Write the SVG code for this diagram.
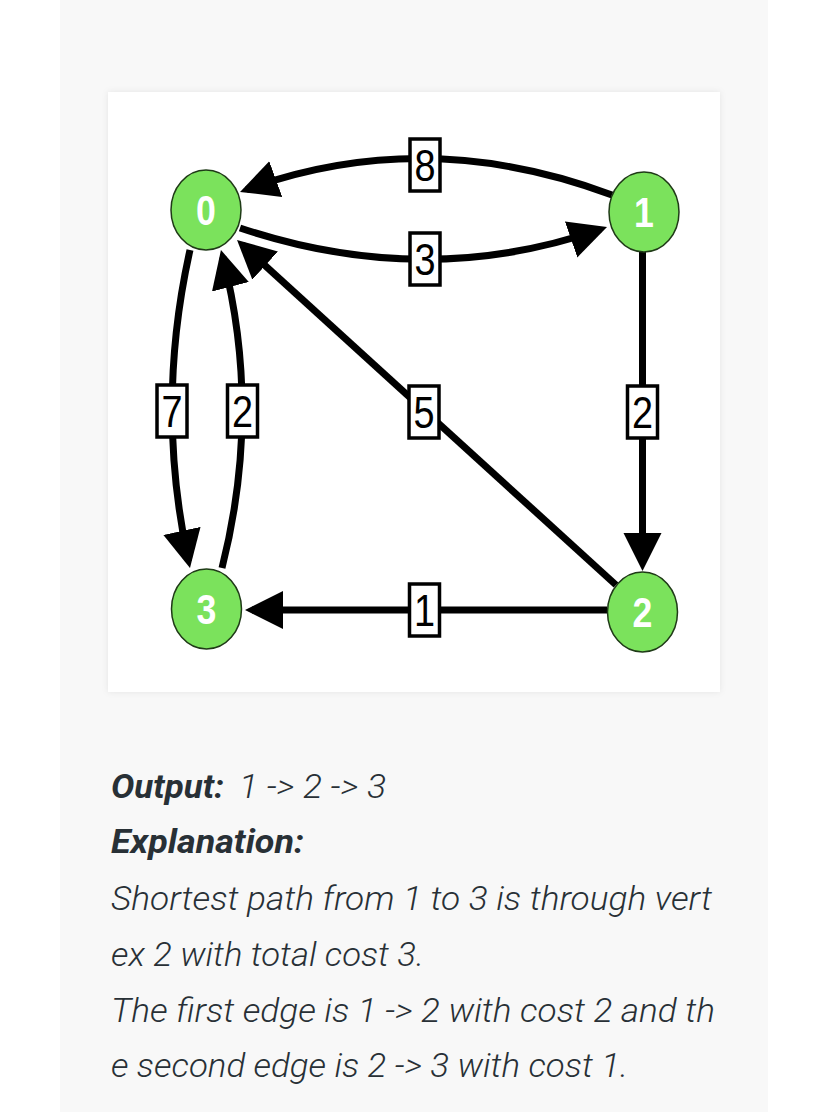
<svg xmlns="http://www.w3.org/2000/svg" width="828" height="1112" viewBox="0 0 828 1112">
<defs>
<style>
.edge{fill:none;stroke:#000;stroke-width:7}
.node ellipse{fill:#7be25c;stroke:#1f3a17;stroke-width:1.5}
.nlab{font-family:"Liberation Sans",Arial,sans-serif;font-weight:bold;font-size:42px;fill:#fff;text-anchor:middle}
.box{fill:#fff;stroke:#000;stroke-width:3.5}
.elab{font-family:"Liberation Sans",Arial,sans-serif;font-size:44px;fill:#000;text-anchor:middle}
.txt{font-family:Roboto,"Liberation Sans",sans-serif;font-style:italic;font-weight:300;font-size:34px;fill:#283036}
.b{font-weight:bold}
</style>
<marker id="arr" markerUnits="userSpaceOnUse" markerWidth="40" markerHeight="40" refX="31" refY="19" orient="auto" viewBox="0 0 40 40">
<path d="M0,0 L38,19 L0,38 z" fill="#000"/>
</marker>
<filter id="sh" x="-5%" y="-5%" width="110%" height="110%">
<feDropShadow dx="0" dy="0" stdDeviation="3" flood-color="#000" flood-opacity="0.08"/>
</filter>
</defs>
<rect x="0" y="0" width="828" height="1112" fill="#fff"/>
<rect x="60" y="0" width="708" height="1112" fill="#f8f8f8"/>
<rect x="108" y="92" width="612" height="600" fill="#fff" filter="url(#sh)"/>

<g id="connectors">
<path class="edge" marker-end="url(#arr)" d="M612,195 Q425,125 246.6,189.6"/>
<path class="edge" marker-end="url(#arr)" d="M240,228 Q425,290 600.4,229.3"/>
<path class="edge" marker-end="url(#arr)" d="M190,250 Q155,406 188.5,561.2"/>
<path class="edge" marker-end="url(#arr)" d="M222,568 Q262,410 222.7,256.8"/>
<path class="edge" marker-end="url(#arr)" d="M616,585 L242.2,244.7"/>
<path class="edge" marker-end="url(#arr)" d="M642.5,252 L642.5,564"/>
<path class="edge" marker-end="url(#arr)" d="M607,610 L252,610"/>
<g id="edge-labels">
<rect class="box" x="410" y="139" width="30" height="52"/>
<text class="elab" transform="translate(425,180.5) scale(0.86,1)">8</text>
<rect class="box" x="410" y="233" width="30" height="52"/>
<text class="elab" transform="translate(425,274.5) scale(0.86,1)">3</text>
<rect class="box" x="157" y="385" width="30" height="52"/>
<text class="elab" transform="translate(172,426.5) scale(0.86,1)">7</text>
<rect class="box" x="227.5" y="385" width="30" height="52"/>
<text class="elab" transform="translate(242.5,426.5) scale(0.86,1)">2</text>
<rect class="box" x="409" y="386" width="30" height="52"/>
<text class="elab" transform="translate(424,427.5) scale(0.86,1)">5</text>
<rect class="box" x="627.5" y="386" width="30" height="52"/>
<text class="elab" transform="translate(642.5,427.5) scale(0.86,1)">2</text>
<rect class="box" x="409.5" y="584" width="30" height="52"/>
<text class="elab" transform="translate(424.5,625.5) scale(0.86,1)">1</text>
</g>
</g>

<g id="node0" class="node"><ellipse cx="206" cy="210" rx="35" ry="40"/><text class="nlab" transform="translate(206,225) scale(0.85,1)">0</text></g>
<g id="node1" class="node"><ellipse cx="644" cy="212" rx="35" ry="40"/><text class="nlab" transform="translate(644,227) scale(0.85,1)">1</text></g>
<g id="node2" class="node"><ellipse cx="642.5" cy="612" rx="35" ry="40"/><text class="nlab" transform="translate(642.5,627) scale(0.85,1)">2</text></g>
<g id="node3" class="node"><ellipse cx="206.5" cy="609" rx="35" ry="40"/><text class="nlab" transform="translate(206.5,624) scale(0.85,1)">3</text></g>

<g id="caption">
<text class="txt b" x="111" y="798" textLength="113" lengthAdjust="spacingAndGlyphs">Output:</text>
<text class="txt" x="239" y="798" textLength="147" lengthAdjust="spacingAndGlyphs">1 -&gt; 2 -&gt; 3</text>
<text class="txt b" x="111" y="853" textLength="193" lengthAdjust="spacingAndGlyphs">Explanation:</text>
<text class="txt" x="111" y="910" textLength="601" lengthAdjust="spacingAndGlyphs">Shortest path from 1 to 3 is through vert</text>
<text class="txt" x="111" y="966" textLength="313" lengthAdjust="spacingAndGlyphs">ex 2 with total cost 3.</text>
<text class="txt" x="111" y="1022" textLength="604" lengthAdjust="spacingAndGlyphs">The first edge is 1 -&gt; 2 with cost 2 and th</text>
<text class="txt" x="111" y="1077" textLength="517" lengthAdjust="spacingAndGlyphs">e second edge is 2 -&gt; 3 with cost 1.</text>
</g>
</svg>
